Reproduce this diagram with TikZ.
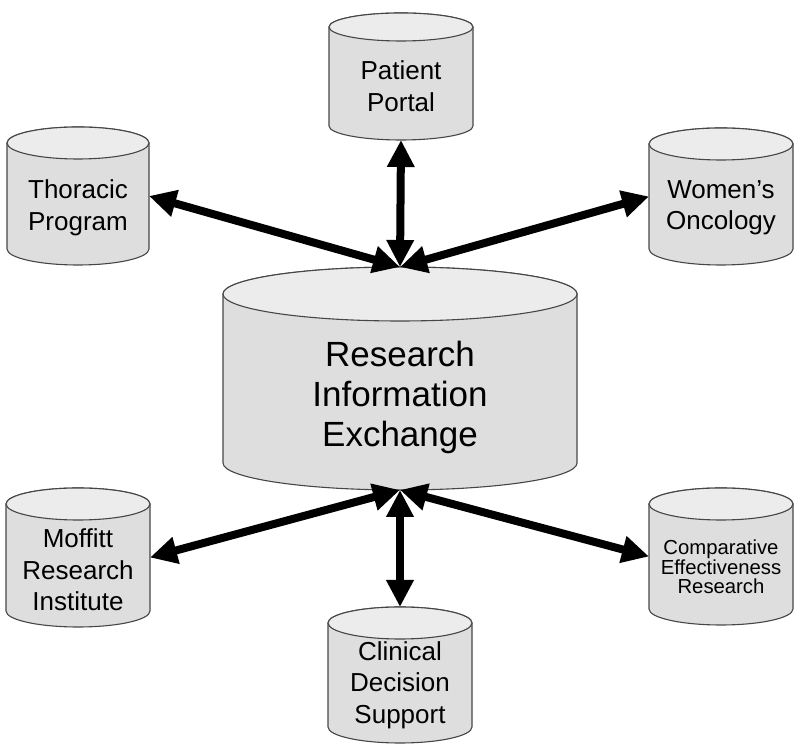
\documentclass[tikz,border=0pt]{standalone}
\usepackage{fontspec}
\setmainfont{Liberation Sans}
\usetikzlibrary{arrows.meta}
\definecolor{cylside}{RGB}{222,222,222}
\definecolor{cyltopc}{RGB}{236,236,236}
\definecolor{cylline}{RGB}{70,70,70}
\tikzset{
  cylbox/.style={draw=none,inner sep=0pt,outer sep=0pt},
  cylbody/.style={fill=cylside,draw=cylline,line width=1.1pt},
  cyltop/.style={fill=cyltopc,draw=cylline,line width=1.1pt},
  smalltxt/.style={align=center,font=\fontsize{26}{31.5}\selectfont,inner sep=0pt},
  bigtxt/.style={align=center,font=\fontsize{35}{40}\selectfont,inner sep=0pt},
  tinytxt/.style={align=center,font=\fontsize{20.3}{19.5}\selectfont,inner sep=0pt},
  biarrow/.style={line width=8pt,{Triangle[length=27pt,width=26pt]}-{Triangle[length=27pt,width=26pt]}}
}
\newcommand\cylshape[3]{%
  \filldraw[cylbody] ([yshift=-#3]#1.north west) -- ([yshift=#3]#1.south west)
    arc[start angle=180,end angle=360,x radius=#2,y radius=#3]
    -- ([yshift=-#3]#1.north east)
    arc[start angle=0,end angle=180,x radius=#2,y radius=#3] -- cycle;
  \filldraw[cyltop] ([yshift=-#3]#1.north) ellipse[x radius=#2,y radius=#3];}
\begin{document}
\begin{tikzpicture}[x=1pt,y=1pt]
\useasboundingbox (0,0) rectangle (800,751);
% cylinder boxes
\node[cylbox,minimum width=144,minimum height=127] (pp) at (401,674.5) {};
\node[cylbox,minimum width=142,minimum height=138] (th) at (78,555) {};
\node[cylbox,minimum width=144,minimum height=137] (wo) at (721,554.5) {};
\node[cylbox,minimum width=354,minimum height=223] (rie) at (400,372.5) {};
\node[cylbox,minimum width=144,minimum height=139] (mo) at (78,193.5) {};
\node[cylbox,minimum width=144,minimum height=137] (cer) at (721,194.5) {};
\node[cylbox,minimum width=144,minimum height=136] (cds) at (400,76) {};
\cylshape{pp}{72}{14}
\cylshape{th}{71}{16}
\cylshape{wo}{72}{16}
\cylshape{rie}{177}{27}
\cylshape{mo}{72}{16}
\cylshape{cer}{72}{16}
\cylshape{cds}{72}{16}
% texts
\node[smalltxt] (tpp) at (401,665) {Patient\\Portal};
\node[smalltxt] (tth) at (78,543) {Thoracic\\Program};
\node[smalltxt] (two) at (721,543) {Women’s\\Oncology};
\node[bigtxt] (trie) at (400,354) {Research\\Information\\Exchange};
\node[smalltxt] (tmo) at (78,181) {Moffitt\\Research\\Institute};
\node[tinytxt] (tcer) at (721,184) {Comparative\\Effectiveness\\Research};
\node[smalltxt] (tcds) at (400,66) {Clinical\\Decision\\Support};
% arrows
\draw[biarrow] (pp.south) -- (rie.north);
\draw[biarrow] (th.east) -- (rie.north);
\draw[biarrow] (wo.west) -- (rie.north);
\draw[biarrow] (mo.east) -- (rie.south);
\draw[biarrow] (cer.west) -- (rie.south);
\draw[biarrow] (cds.north) -- (rie.south);
\end{tikzpicture}
\end{document}
